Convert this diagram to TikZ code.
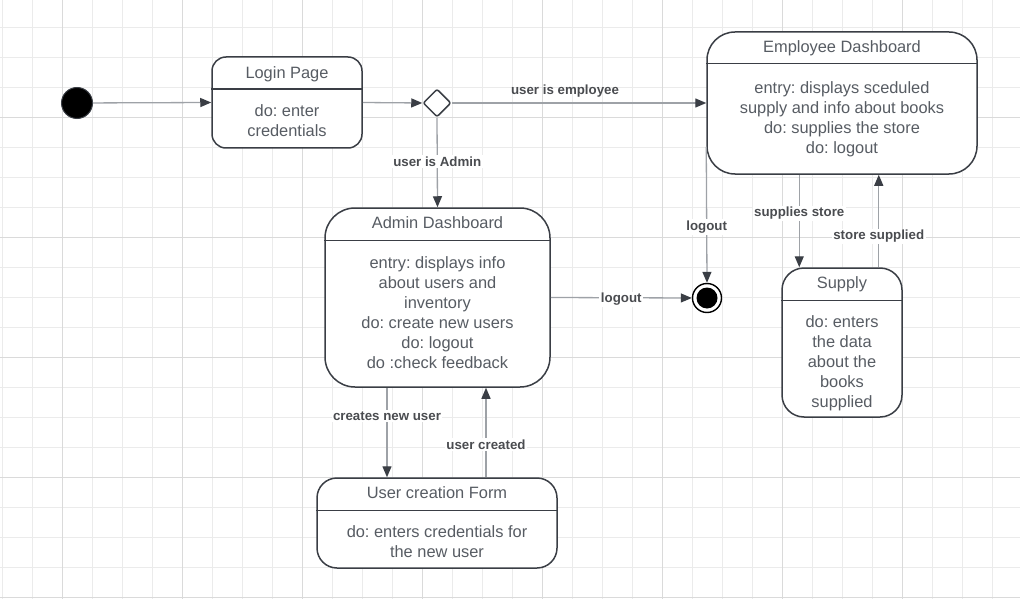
\documentclass[tikz,border=0pt]{standalone}
\usepackage{fontspec}
\setmainfont{Liberation Sans}
\frenchspacing
\usetikzlibrary{arrows.meta,shapes.geometric}

\definecolor{gridminor}{HTML}{EBEBEB}
\definecolor{gridmajor}{HTML}{DADADA}
\definecolor{edge}{HTML}{3A3E45}
\definecolor{txt}{HTML}{575C63}
\definecolor{lbl}{HTML}{4A4C50}
\definecolor{wire}{HTML}{9EA2A7}

\begin{document}
\begin{tikzpicture}[x=1pt,y=-1pt,
  statebox/.style={draw=edge, line width=1.5pt, fill=white, rounded corners=#1, inner sep=0pt},
  statebox/.default=15pt,
  divider/.style={draw=edge, line width=1.5pt},
  ttl/.style={font=\fontsize{16.4}{20}\selectfont, text=txt, inner sep=0pt},
  body/.style={font=\fontsize{16.4}{20}\selectfont, text=txt, align=center, inner sep=0pt},
  conn/.style={draw=wire, line width=1.3pt, -{Triangle[length=11pt,width=9pt,color=edge]}},
  lab/.style={font=\bfseries\fontsize{13.3}{16}\selectfont, text=lbl, fill=white, inner sep=1.5pt, yshift=-1.5pt}]

\useasboundingbox (0,0) rectangle (1020,599);

% background grid
\foreach \x in {2.3,32.3,...,1022.3} \draw[gridminor, line width=0.8pt] (\x,0) -- (\x,599);
\foreach \y in {27.3,57.3,...,597.3} \draw[gridminor, line width=0.8pt] (0,\y) -- (1020,\y);
\foreach \x in {62.3,182.3,...,1022.3} \draw[gridmajor, line width=0.9pt] (\x,0) -- (\x,599);
\foreach \y in {117.3,237.3,...,597.3} \draw[gridmajor, line width=0.9pt] (0,\y) -- (1020,\y);

% states (shapes only, text added after the connectors)
\node[circle, fill=black, draw=edge, line width=1pt, minimum size=31pt, inner sep=0pt] (init) at (77,103) {};
\node[statebox=14pt, minimum width=150pt, minimum height=91pt] (login) at (287,102.5) {};
\node[diamond, draw=edge, fill=white, line width=1.5pt, minimum width=28pt, minimum height=28pt, inner sep=0pt, rounded corners=2pt] (dia) at (437,103) {};
\node[statebox=28pt, minimum width=270pt, minimum height=142pt] (emp) at (842,103) {};
\node[statebox=30pt, minimum width=225pt, minimum height=179pt] (admin) at (437.5,297.5) {};
\node[statebox=22pt, minimum width=120pt, minimum height=149pt] (sup) at (842,342.5) {};
\node[statebox=20pt, minimum width=240pt, minimum height=90pt] (form) at (437,523) {};
\node[circle, draw=black, line width=1.4pt, fill=white, minimum size=29pt, inner sep=0pt] (fin) at (707,298) {};
\node[circle, fill=black, minimum size=21pt, inner sep=0pt] (finIn) at (fin) {};

% connectors
\draw[conn] (init) -- (login.west);
\draw[conn] (login.east) -- (dia.west);
\draw[conn] (dia.east) -- node[lab, fill=none, pos=0.445, yshift=13pt] {user is employee} (emp.west);
\draw[conn] (dia.south) -- node[lab, pos=0.47] {user is Admin} (admin.north);
\draw[conn] (admin.east) -- node[lab, pos=0.5] {logout} (fin.west);
\draw[conn] ([yshift=28pt]emp.south west) -- node[lab, pos=0.58] {logout} (fin.north);
\draw[conn] ([xshift=18pt]sup.north west |- emp.south) -- node[lab, pos=0.40] {supplies store} ([xshift=18pt]sup.north west);
\draw[conn] ([xshift=-24pt]sup.north east) -- node[lab, pos=0.35] {store supplied} ([xshift=-24pt]sup.north east |- emp.south);
\draw[conn] ([xshift=-50pt]form.north |- admin.south) -- node[lab, pos=0.30] {creates new user} ([xshift=-50pt]form.north);
\draw[conn] ([xshift=49pt]form.north) -- node[lab, pos=0.385] {user created} ([xshift=49pt]form.north |- admin.south);

% compartments and texts
\draw[divider] ([yshift=-33pt]login.north west) -- ([yshift=-33pt]login.north east);
\node[ttl] (loginT) at ([yshift=-18.5pt]login.north) {Login Page};
\node[body] (loginB) at (287,120.5) {do: enter\\credentials};

\draw[divider] ([yshift=-32.3pt]emp.north west) -- ([yshift=-32.3pt]emp.north east);
\node[ttl] (empT) at ([yshift=-17pt]emp.north) {Employee Dashboard};
\node[body] (empB) at (842,119.5) {entry: displays sceduled\\supply and info about books\\do: supplies the store\\do: logout};

\draw[divider] ([yshift=-33pt]admin.north west) -- ([yshift=-33pt]admin.north east);
\node[ttl] (adminT) at ([yshift=-15.5pt]admin.north) {Admin Dashboard};
\node[body] (adminB) at (437.5,312.5) {entry: displays info\\about users and\\inventory\\do: create new users\\do: logout\\do :check feedback};

\draw[divider] ([yshift=-33pt]sup.north west) -- ([yshift=-33pt]sup.north east);
\node[ttl] (supT) at ([yshift=-17.5pt]sup.north) {Supply};
\node[body] (supB) at (842,363.5) {do: enters\\the data\\about the\\books\\supplied};

\draw[divider] ([yshift=-33pt]form.north west) -- ([yshift=-33pt]form.north east);
\node[ttl] (formT) at ([yshift=-15pt]form.north) {User creation Form};
\node[body] (formB) at (437,541.5) {do: enters credentials for\\the new user};
\end{tikzpicture}
\end{document}
